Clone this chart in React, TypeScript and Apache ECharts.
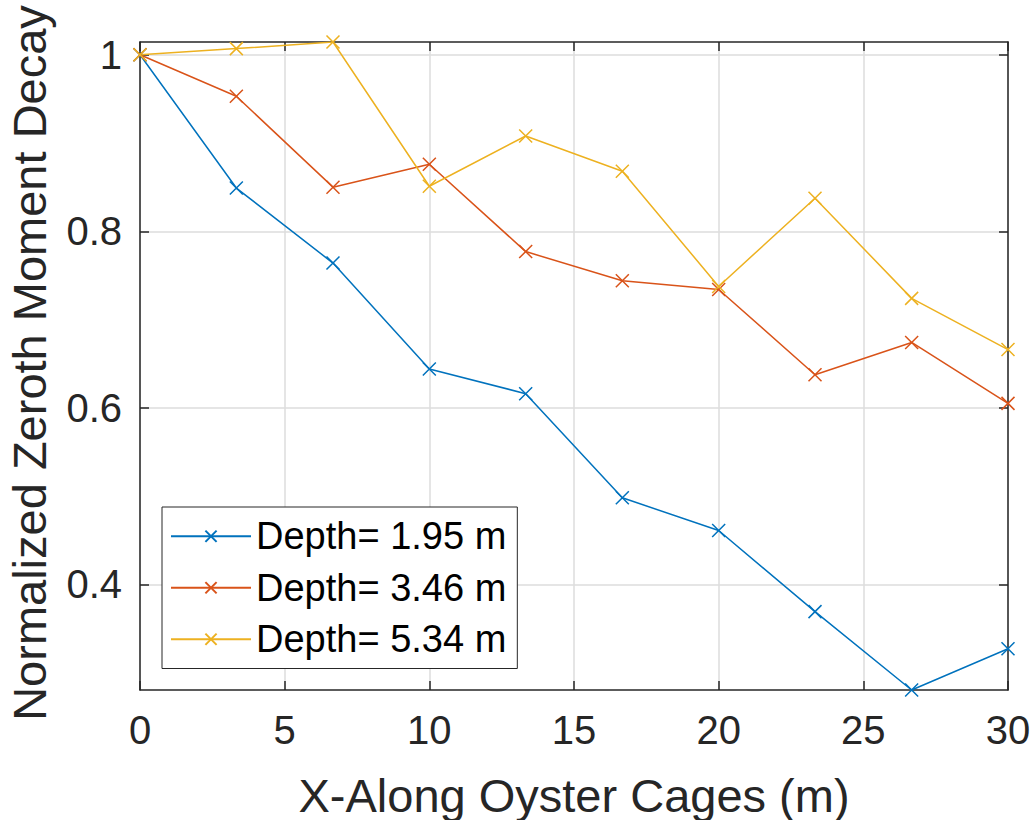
import React, { useEffect, useRef } from "react";
import * as echarts from "echarts";

const xPositions = [0, 3.33, 6.67, 10, 13.33, 16.67, 20, 23.33, 26.67, 30];
const depth195 = [1, 0.849, 0.764, 0.644, 0.616, 0.498, 0.461, 0.369, 0.2802, 0.327];
const depth346 = [1, 0.953, 0.85, 0.876, 0.777, 0.744, 0.734, 0.6375, 0.674, 0.605];
const depth534 = [1, 1.007, 1.0145, 0.851, 0.908, 0.868, 0.7375, 0.8375, 0.724, 0.666];
const seriesNames = ["Depth= 1.95 m", "Depth= 3.46 m", "Depth= 5.34 m"];
const colors = ["#0072BD", "#D95319", "#EDB120"];
const yTicks = [0.4, 0.6, 0.8, 1];
const xTitle = "X-Along Oyster Cages (m)";
const yTitle = "Normalized Zeroth Moment Decay";

const FONT = "'Liberation Sans', Arial, Helvetica, sans-serif";
const AXIS_COLOR = "#262626";
const X_SYMBOL = "path://M0,0L10,10M10,0L0,10";

export default function App() {
  const ref = useRef<HTMLDivElement>(null);
  useEffect(() => {
    if (!ref.current) return;
    const chart = echarts.init(ref.current, null, { renderer: "svg" });
    const all = [depth195, depth346, depth534];
    const series = all.map((vals, i) => ({
      name: seriesNames[i],
      type: "line",
      data: vals.map((v, k) => [xPositions[k], v]),
      symbol: X_SYMBOL,
      symbolSize: 13,
      showSymbol: true,
      lineStyle: { color: colors[i], width: 1.5 },
      itemStyle: { color: colors[i], borderColor: colors[i], borderWidth: 1.5 },
      emphasis: { disabled: true },
      z: 3,
    }));
    const yMin = 0.2802;
    const yMax = 1.0145;
    chart.setOption({
      animation: false,
      textStyle: { fontFamily: FONT },
      grid: { left: 140, right: 26, top: 42, bottom: 130, containLabel: false },
      xAxis: [
        {
          type: "value",
          min: 0,
          max: 30,
          interval: 5,
          position: "bottom",
          axisLine: { show: true, onZero: false, lineStyle: { color: AXIS_COLOR, width: 1.5 } },
          axisTick: { show: true, inside: true, length: 9, lineStyle: { color: AXIS_COLOR, width: 1.5 } },
          axisLabel: { show: true, fontSize: 40, color: AXIS_COLOR, margin: 20, fontFamily: FONT },
          splitLine: { show: true, lineStyle: { color: "#dcdcdc", width: 1.5 } },
        },
        {
          type: "value",
          min: 0,
          max: 30,
          interval: 5,
          position: "top",
          axisLine: { show: true, onZero: false, lineStyle: { color: AXIS_COLOR, width: 1.5 } },
          axisTick: { show: true, inside: true, length: 9, lineStyle: { color: AXIS_COLOR, width: 1.5 } },
          axisLabel: { show: false },
          splitLine: { show: false },
        },
      ],
      yAxis: [
        {
          type: "value",
          min: yMin,
          max: yMax,
          position: "left",
          axisLine: { show: true, onZero: false, lineStyle: { color: AXIS_COLOR, width: 1.5 } },
          axisTick: { show: true, inside: true, length: 9, customValues: yTicks, lineStyle: { color: AXIS_COLOR, width: 1.5 } },
          axisLabel: {
            show: true,
            fontSize: 40,
            color: AXIS_COLOR,
            margin: 18,
            fontFamily: FONT,
            customValues: yTicks,
            formatter: (v: number) => String(Math.round(v * 10) / 10),
          },
          splitLine: { show: true, lineStyle: { color: "#dcdcdc", width: 1.5 } },
        },
        {
          type: "value",
          min: yMin,
          max: yMax,
          position: "right",
          axisLine: { show: true, onZero: false, lineStyle: { color: AXIS_COLOR, width: 1.5 } },
          axisTick: { show: true, inside: true, length: 9, customValues: yTicks, lineStyle: { color: AXIS_COLOR, width: 1.5 } },
          axisLabel: { show: false },
          splitLine: { show: false },
        },
      ],
      legend: {
        show: true,
        orient: "vertical",
        left: 162,
        top: 507,
        padding: [7, 11, 7, 8],
        itemWidth: 80,
        itemHeight: 14,
        itemGap: 7,
        backgroundColor: "#ffffff",
        borderColor: AXIS_COLOR,
        borderWidth: 1,
        borderRadius: 0,
        textStyle: { fontSize: 38, color: "#000000", lineHeight: 44.5, fontFamily: FONT },
        data: seriesNames,
        selectedMode: false,
      },
      graphic: [
        {
          type: "text",
          x: 574,
          y: 795,
          style: {
            text: xTitle,
            fontSize: 47,
            fontFamily: FONT,
            fill: AXIS_COLOR,
            textAlign: "center",
            textVerticalAlign: "middle",
          },
        },
        {
          type: "text",
          x: 29,
          y: 363,
          rotation: Math.PI / 2,
          style: {
            text: yTitle,
            fontSize: 47,
            fontFamily: FONT,
            fill: AXIS_COLOR,
            textAlign: "center",
            textVerticalAlign: "middle",
          },
        },
      ],
      series,
    });
    return () => chart.dispose();
  }, []);
  return (
    <div
      ref={ref}
      style={{ position: "absolute", left: 0, top: 0, width: 1034, height: 820, background: "#ffffff" }}
    />
  );
}
